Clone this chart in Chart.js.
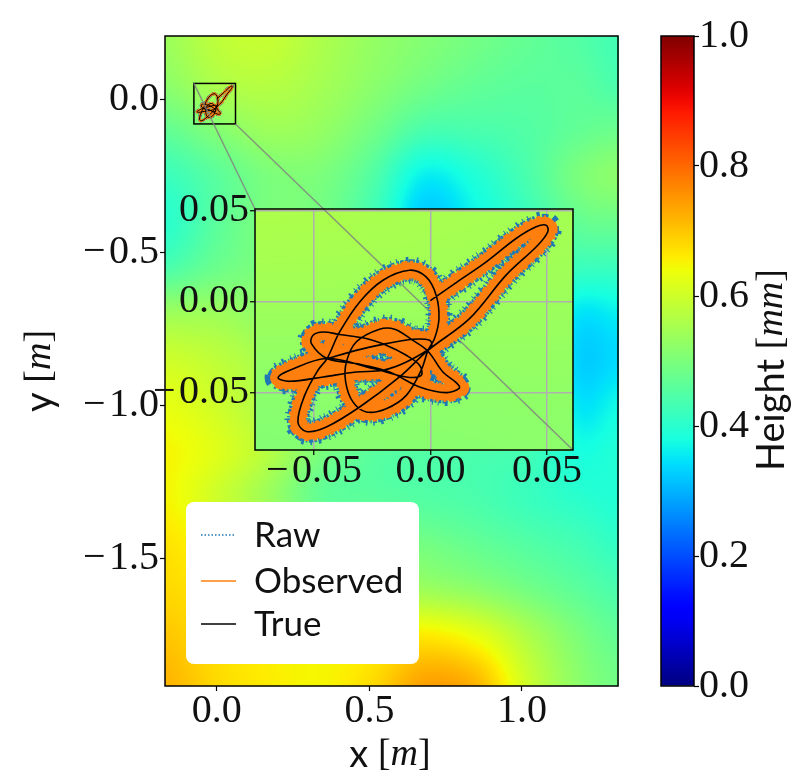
<!DOCTYPE html>
<html>
<head>
<meta charset="utf-8">
<script src="https://cdn.jsdelivr.net/npm/chart.js@4"></script>
<style>
  body { margin: 0; background: #fff; }
  canvas { position: absolute; }
  #mainChart { left: 0; top: 0; }
  #insetChart { left: 130px; top: 170px; }
  #barChart { left: 640px; top: 0; }
</style>
</head>
<body>
<canvas id="mainChart" width="640" height="783"></canvas>
<canvas id="insetChart" width="470" height="340"></canvas>
<canvas id="barChart" width="160" height="783"></canvas>
<script>
// Main axes
const xLimits = [-0.17, 1.315];
const yLimits = [-1.918, 0.206];
const xTicks = [0, 0.5, 1];
const yTicks = [0, -0.5, -1, -1.5];

// Zoomed axes
const insetXLimits = [-0.0753, 0.0611];
const insetYLimits = [-0.0813, 0.051];
const insetXTicks = [-0.05, 0, 0.05];
const insetYTicks = [-0.05, 0, 0.05];

// Colour bar
const barTicks = [0, 0.2, 0.4, 0.6, 0.8, 1];

// Height map
const gridX = [-0.17, 0, 0.17, 0.34, 0.51, 0.68, 0.85, 1.02, 1.19, 1.315];
const gridY = [0.206, 0.05, -0.1, -0.25, -0.4, -0.55, -0.7, -0.85, -1, -1.15, -1.3, -1.45, -1.6, -1.75, -1.918];
const heights = [
  [.54, .58, .59, .56, .53, .51, .49, .47, .45, .43],
  [.52, .56, .57, .55, .52, .49, .47, .46, .46, .44],
  [.47, .51, .54, .53, .49, .44, .44, .45, .47, .48],
  [.42, .46, .50, .50, .45, .36, .39, .44, .50, .52],
  [.40, .46, .50, .49, .43, .33, .37, .42, .47, .48],
  [.44, .48, .50, .49, .44, .40, .40, .42, .42, .42],
  [.54, .54, .52, .50, .47, .44, .43, .42, .35, .36],
  [.60, .58, .55, .52, .49, .47, .45, .42, .33, .34],
  [.63, .60, .56, .53, .50, .48, .46, .44, .35, .37],
  [.65, .62, .57, .50, .46, .45, .44, .43, .38, .39],
  [.65, .60, .54, .47, .46, .45, .44, .42, .40, .39],
  [.67, .63, .58, .52, .50, .49, .47, .45, .43, .41],
  [.68, .66, .62, .58, .56, .54, .52, .49, .46, .44],
  [.70, .67, .65, .64, .64, .66, .63, .56, .50, .47],
  [.72, .68, .66, .65, .68, .74, .72, .60, .52, .49]
];
const insetGridX = [-0.0753, 0.0611];
const insetGridY = [0.051, -0.0813];
const insetHeights = [
  [.56, .55],
  [.51, .52]
];

// Trajectory
const trueX = [-0.0001, 0.0110, 0.0239, 0.0367, 0.0453, 0.0496, 0.0503, 0.0460, 0.0324, 0.0167, -0.0011,
  -0.0133, -0.0304, -0.0447, -0.0533, -0.0569, -0.0540, -0.0483, -0.0444, -0.0390, -0.0304, -0.0204,
  -0.0090, -0.0019, 0.0024, 0.0036, 0.0017, -0.0011, -0.0040, -0.0104, -0.0190, -0.0276, -0.0333,
  -0.0364, -0.0361, -0.0319, -0.0219, -0.0154, -0.0076, -0.0011, 0.0053, 0.0110, 0.0124, 0.0067,
  -0.0047, -0.0176, -0.0319, -0.0444, -0.0511, -0.0504, -0.0461, -0.0390, -0.0276, -0.0190, -0.0104,
  -0.0047, -0.0040, -0.0104, -0.0247, -0.0444, -0.0604, -0.0654, -0.0604, -0.0461, -0.0319, -0.0204,
  -0.0104, 0.0003, -0.0004, -0.0076, -0.0190, -0.0319, -0.0444];
const trueY = [0.0007, 0.0106, 0.0220, 0.0348, 0.0412, 0.0421, 0.0385, 0.0311, 0.0147, -0.0092, -0.0266,
  -0.0412, -0.0577, -0.0687, -0.0711, -0.0659, -0.0513, -0.0375, -0.0311, -0.0165, 0, 0.0119,
  0.0174, 0.0137, 0.0037, -0.0092, -0.0201, -0.0266, -0.0375, -0.0513, -0.0586, -0.0604, -0.0549,
  -0.0440, -0.0330, -0.0220, -0.0150, -0.0150, -0.0211, -0.0271, -0.0385, -0.0443, -0.0473, -0.0498,
  -0.0467, -0.0385, -0.0339, -0.0311, -0.0229, -0.0183, -0.0165, -0.0179, -0.0201, -0.0238, -0.0293,
  -0.0348, -0.0403, -0.0412, -0.0366, -0.0311, -0.0375, -0.0416, -0.0436, -0.0412, -0.0385, -0.0375,
  -0.0330, -0.0247, -0.0211, -0.0205, -0.0229, -0.0266, -0.0311];

const seriesNames = ['Raw', 'Observed', 'True'];

const BLUE = '#1f77b4';
const ORANGE = '#ff7f0e';
const SERIF = '"Liberation Serif"';
const SANS = 'Lato';
const TICK_FONT = { family: SERIF, size: 40 };

// matplotlib jet
const JET = {
  r: [[0, 0], [0.35, 0], [0.66, 1], [0.89, 1], [1, 0.5]],
  g: [[0, 0], [0.125, 0], [0.375, 1], [0.64, 1], [0.91, 0], [1, 0]],
  b: [[0, 0.5], [0.11, 1], [0.34, 1], [0.65, 0], [1, 0]]
};

function jetChannel(stops, v) {
  for (let i = 1; i < stops.length; i++) {
    if (v <= stops[i][0]) {
      const t = (v - stops[i - 1][0]) / (stops[i][0] - stops[i - 1][0]);
      return Math.round(255 * (stops[i - 1][1] + t * (stops[i][1] - stops[i - 1][1])));
    }
  }
  return Math.round(255 * stops[stops.length - 1][1]);
}

function jet(v) {
  const c = Math.min(1, Math.max(0, v));
  return `rgb(${jetChannel(JET.r, c)},${jetChannel(JET.g, c)},${jetChannel(JET.b, c)})`;
}

// Catmull-Rom between grid values so the map stays smooth
function cubic(a, b, c, d, t) {
  return b + 0.5 * t * (c - a + t * (2 * a - 5 * b + 4 * c - d + t * (3 * (b - c) + d - a)));
}

function findCell(axis, v) {
  const up = axis[0] < axis[axis.length - 1];
  let i = 0;
  while (i < axis.length - 2 && (up ? v > axis[i + 1] : v < axis[i + 1])) i++;
  return [i, Math.min(1, Math.max(0, (v - axis[i]) / (axis[i + 1] - axis[i])))];
}

function sampleHeight(grid, ax, ay, x, y) {
  const [col, tx] = findCell(ax, x);
  const [row, ty] = findCell(ay, y);
  const rowAt = r => {
    const line = grid[Math.min(ay.length - 1, Math.max(0, r))];
    const at = c => line[Math.min(ax.length - 1, Math.max(0, c))];
    return cubic(at(col - 1), at(col), at(col + 1), at(col + 2), tx);
  };
  return cubic(rowAt(row - 1), rowAt(row), rowAt(row + 1), rowAt(row + 2), ty);
}

function drawHeightMap(chart, grid, ax, ay) {
  const { ctx, chartArea: area, scales } = chart;
  const step = 2;
  ctx.save();
  for (let px = Math.floor(area.left); px < area.right; px += step) {
    for (let py = Math.floor(area.top); py < area.bottom; py += step) {
      const v = sampleHeight(grid, ax, ay, scales.x.getValueForPixel(px + 1), scales.y.getValueForPixel(py + 1));
      ctx.fillStyle = jet(v);
      ctx.fillRect(px, py, step, step);
    }
  }
  ctx.restore();
}

function drawFrame(chart) {
  const { ctx, chartArea: a } = chart;
  ctx.save();
  ctx.strokeStyle = '#000';
  ctx.lineWidth = 1.5;
  ctx.strokeRect(a.left, a.top, a.right - a.left, a.bottom - a.top);
  ctx.restore();
}

// Axis titles mix sans, roman and math italic
function drawRuns(ctx, runs, cx, cy, angle) {
  ctx.save();
  ctx.translate(cx, cy);
  ctx.rotate(angle);
  ctx.textBaseline = 'middle';
  ctx.textAlign = 'left';
  ctx.fillStyle = '#111';
  let width = 0;
  runs.forEach(r => { ctx.font = r.font; width += ctx.measureText(r.text).width; });
  let x = -width / 2;
  runs.forEach(r => {
    ctx.font = r.font;
    ctx.fillText(r.text, x, 0);
    x += ctx.measureText(r.text).width;
  });
  ctx.restore();
}

function axisRuns(name, unit) {
  return [
    { text: name + ' ', font: `38px ${SANS}` },
    { text: '[', font: `38px ${SERIF}` },
    { text: unit, font: `italic 38px ${SERIF}` },
    { text: ']', font: `38px ${SERIF}` }
  ];
}

function formatTick(v, digits) {
  return (v < 0 ? '\u2212\u200a' : '') + Math.abs(v).toFixed(digits);
}

// Noise around the path is suggested with uneven dashes on wide strokes
function pathDatasets(w) {
  const path = trueX.map((x, i) => ({ x, y: trueY[i] }));
  const line = { type: 'line', data: path, pointRadius: 0, tension: 0.35, borderJoinStyle: 'round', fill: false };
  return [
    { ...line, label: seriesNames[2], borderColor: '#000', borderWidth: w.truth, order: 1 },
    { ...line, label: seriesNames[1], borderColor: ORANGE, borderWidth: w.observed, order: 2 },
    { ...line, label: seriesNames[1], borderColor: ORANGE, borderWidth: w.fringe, borderDash: [3, 2, 1, 3, 5, 2, 2, 4], order: 3 },
    { ...line, label: seriesNames[0], borderColor: BLUE, borderWidth: w.raw, borderDash: [2, 1, 3, 1, 1, 2, 4, 1, 2, 2], order: 4 },
    { ...line, label: seriesNames[0], borderColor: BLUE, borderWidth: w.spikes, borderDash: [1, 4, 1, 7, 2, 5], order: 5 }
  ];
}

function scaleOptions(position, limits, ticks, digits, size, padding) {
  const horizontal = position === 'bottom';
  return {
    type: 'linear',
    position,
    min: limits[0],
    max: limits[1],
    afterBuildTicks: s => { s.ticks = ticks.map(value => ({ value })); },
    afterFit: s => { if (horizontal) s.height = size; else s.width = size; },
    border: { display: false },
    grid: { drawOnChartArea: false, tickLength: 5, tickColor: '#000', tickWidth: 1.2 },
    ticks: {
      font: TICK_FONT, color: '#111', padding, autoSkip: false, maxRotation: 0, minRotation: 0,
      callback: v => formatTick(v, digits)
    }
  };
}

const baseOptions = {
  responsive: false,
  animation: false,
  devicePixelRatio: 1,
  plugins: { legend: { display: false }, tooltip: { enabled: false } }
};

const INSET_LEFT = 130;
const INSET_TOP = 170;

function connector(main, inset, which) {
  const { x, y } = main.scales;
  if (which === 0) {
    return [x.getPixelForValue(insetXLimits[0]), y.getPixelForValue(insetYLimits[1]),
      INSET_LEFT + inset.chartArea.left, INSET_TOP + inset.chartArea.top];
  }
  return [x.getPixelForValue(insetXLimits[1]), y.getPixelForValue(insetYLimits[0]),
    INSET_LEFT + inset.chartArea.right, INSET_TOP + inset.chartArea.bottom];
}

function strokeConnector(ctx, c, dx, dy) {
  ctx.save();
  ctx.strokeStyle = 'rgba(128,128,128,0.8)';
  ctx.lineWidth = 1.5;
  ctx.beginPath();
  ctx.moveTo(c[0] - dx, c[1] - dy);
  ctx.lineTo(c[2] - dx, c[3] - dy);
  ctx.stroke();
  ctx.restore();
}

function drawLegend(ctx) {
  const rows = [535, 581, 624];
  ctx.save();
  ctx.fillStyle = '#fff';
  ctx.beginPath();
  ctx.roundRect(186, 502, 233, 162, 8);
  ctx.fill();
  const styles = [[BLUE, 1.5, [1.5, 2]], [ORANGE, 1.5, []], ['#000', 1.5, []]];
  seriesNames.forEach((name, i) => {
    ctx.strokeStyle = styles[i][0];
    ctx.lineWidth = styles[i][1];
    ctx.setLineDash(styles[i][2]);
    ctx.beginPath();
    ctx.moveTo(201, rows[i]);
    ctx.lineTo(236, rows[i]);
    ctx.stroke();
    ctx.fillStyle = '#111';
    ctx.font = `35px ${SANS}`;
    ctx.textBaseline = 'middle';
    ctx.fillText(name, 254, rows[i] + 1);
  });
  ctx.restore();
}

const mainChart = new Chart(document.getElementById('mainChart'), {
  type: 'scatter',
  data: { datasets: pathDatasets({ truth: 1, observed: 2.4, fringe: 2.8, raw: 3.2, spikes: 3.6 }) },
  options: {
    ...baseOptions,
    layout: { padding: { top: 36, right: 22, left: 0, bottom: 0 } },
    scales: {
      x: scaleOptions('bottom', xLimits, xTicks, 1, 97, -4),
      y: scaleOptions('left', yLimits, yTicks, 1, 165, 1)
    }
  },
  plugins: [{
    id: 'mainDecor',
    beforeDraw: c => drawHeightMap(c, heights, gridX, gridY),
    afterDraw: c => {
      const { ctx, scales: { x, y } } = c;
      drawFrame(c);
      ctx.save();
      ctx.strokeStyle = '#000';
      ctx.lineWidth = 1.5;
      const x0 = x.getPixelForValue(insetXLimits[0]);
      const y0 = y.getPixelForValue(insetYLimits[1]);
      ctx.strokeRect(x0, y0, x.getPixelForValue(insetXLimits[1]) - x0, y.getPixelForValue(insetYLimits[0]) - y0);
      ctx.restore();
      drawRuns(ctx, axisRuns('x', 'm'), 390, 755, 0);
      drawRuns(ctx, axisRuns('y', 'm'), 40, 371, -Math.PI / 2);
      drawLegend(ctx);
    }
  }]
});

const insetGrid = { color: '#b0b0b0', lineWidth: 1.5, tickLength: 5, tickColor: '#000', tickWidth: 1.2 };

const insetChart = new Chart(document.getElementById('insetChart'), {
  type: 'scatter',
  data: { datasets: pathDatasets({ truth: 1.6, observed: 16, fringe: 19, raw: 22, spikes: 27 }) },
  options: {
    ...baseOptions,
    layout: { padding: { top: 39, right: 27, left: 0, bottom: 0 } },
    scales: {
      x: { ...scaleOptions('bottom', insetXLimits, insetXTicks, 2, 60, -8), grid: insetGrid },
      y: { ...scaleOptions('left', insetYLimits, insetYTicks, 2, 125, 1), grid: insetGrid }
    }
  },
  plugins: [{
    id: 'insetDecor',
    beforeDraw: c => drawHeightMap(c, insetHeights, insetGridX, insetGridY),
    beforeDatasetsDraw: c => {
      const { ctx, chartArea: a } = c;
      ctx.save();
      ctx.beginPath();
      ctx.rect(a.left, a.top, a.right - a.left, a.bottom - a.top);
      ctx.clip();
      strokeConnector(ctx, connector(mainChart, c, 1), INSET_LEFT, INSET_TOP);
      ctx.restore();
    },
    afterDraw: drawFrame
  }]
});

// The connectors need the zoomed axes, so the main chart gets them afterwards
strokeConnector(mainChart.ctx, connector(mainChart, insetChart, 0), 0, 0);
strokeConnector(mainChart.ctx, connector(mainChart, insetChart, 1), 0, 0);

new Chart(document.getElementById('barChart'), {
  type: 'bar',
  data: {
    labels: ['Height'],
    datasets: [{
      data: [1],
      barPercentage: 1,
      categoryPercentage: 1,
      backgroundColor: c => {
        const { ctx, chartArea } = c.chart;
        if (!chartArea) return '#000';
        const g = ctx.createLinearGradient(0, chartArea.bottom, 0, chartArea.top);
        for (let i = 0; i <= 50; i++) g.addColorStop(i / 50, jet(i / 50));
        return g;
      }
    }]
  },
  options: {
    ...baseOptions,
    layout: { padding: { top: 36, bottom: 97, left: 21, right: 0 } },
    scales: {
      x: { display: false },
      y: { ...scaleOptions('right', [0, 1], barTicks, 1, 106, 0) }
    }
  },
  plugins: [{
    id: 'barDecor',
    afterDraw: c => {
      drawFrame(c);
      drawRuns(c.ctx, axisRuns('Height', 'mm'), 132, 370, -Math.PI / 2);
    }
  }]
});
</script>
</body>
</html>
